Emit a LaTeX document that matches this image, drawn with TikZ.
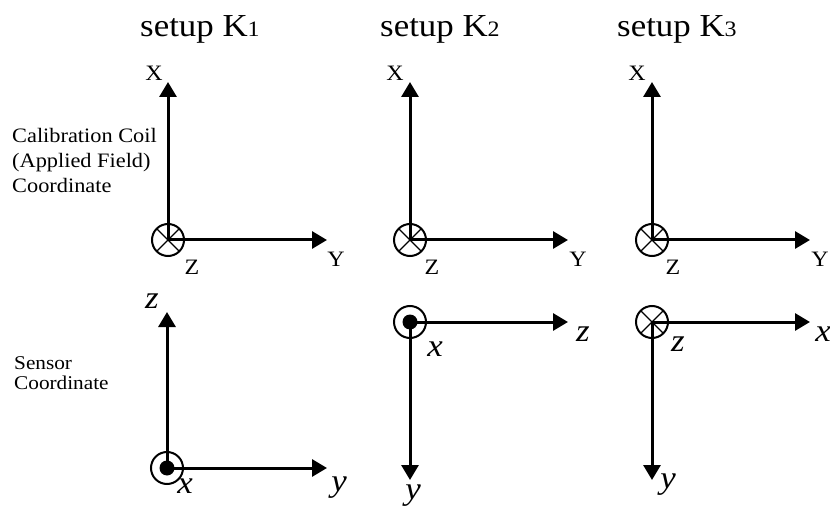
\documentclass[tikz,border=0pt]{standalone}
\usepackage{fontspec}
\setmainfont[FakeStretch=1.09]{Liberation Serif}
\usetikzlibrary{arrows.meta}
\begin{document}
\begin{tikzpicture}[x=1pt,y=-1pt,
  axis/.style={line width=3pt,-{Triangle[length=15pt,width=17pt]}},
  ring/.style={circle,draw,line width=2pt,minimum size=32pt,inner sep=0pt},
  intoring/.style={ring,path picture={
      \draw[line width=1.3pt] (path picture bounding box.south west)--(path picture bounding box.north east)
        (path picture bounding box.north west)--(path picture bounding box.south east);}},
  outring/.style={ring,path picture={
      \fill (path picture bounding box.center) circle[radius=7.5pt];}},
  title/.style={anchor=base west,inner sep=0pt,font=\fontsize{32}{36}\selectfont},
  upl/.style={inner sep=0pt,font=\fontsize{22}{24}\selectfont},
  itl/.style={inner sep=0pt,font=\fontsize{32}{34}\selectfont\itshape},
  side/.style={anchor=west,align=left,inner sep=0pt}]
\useasboundingbox (0,0) rectangle (830,513);
% titles
\node[title] (t1) at (140,37) {setup K{\fontsize{22}{22}\selectfont 1}};
\node[title] (t2) at (380,37) {setup K{\fontsize{22}{22}\selectfont 2}};
\node[title] (t3) at (617,37) {setup K{\fontsize{22}{22}\selectfont 3}};
% side texts
\node[side,font=\fontsize{20.5}{25}\selectfont] (cal) at (12,160) {Calibration Coil\\(Applied Field)\\Coordinate};
\node[side,font=\fontsize{19.5}{19.5}\selectfont] (sen) at (14,373) {Sensor\\Coordinate};
% ---- top row
\foreach \i/\cx/\tx in {1/168/327, 2/410/568, 3/652/810}{
  \coordinate (o\i) at (\cx,240);
  \coordinate (up\i) at (\cx,82);
  \coordinate (rt\i) at (\tx,240);
  \draw[axis] (o\i) -- (up\i);
  \draw[axis] (o\i) -- (rt\i);
  \node[intoring] (c\i) at (o\i) {};
}
\node[upl] (X1) at (154,73) {X};
\node[upl] (Y1) at (336,259) {Y};
\node[upl] (Z1) at (192,267) {Z};
\node[upl] (X2) at (395,73) {X};
\node[upl] (Y2) at (578,259) {Y};
\node[upl] (Z2) at (432,267) {Z};
\node[upl] (X3) at (637,73) {X};
\node[upl] (Y3) at (820,259) {Y};
\node[upl] (Z3) at (673,267) {Z};
% ---- bottom row, setup 1
\coordinate (p1) at (167,468);
\coordinate (pu1) at (167,312);
\coordinate (pr1) at (327,468);
\draw[axis] (p1) -- (pu1);
\draw[axis] (p1) -- (pr1);
\node[outring] (d1) at (p1) {};
\node[itl] (z1) at (152,301) {z};
\node[itl] (x1) at (185,486) {x};
\node[itl] (y1) at (339,488) {y};
% setup 2
\coordinate (p2) at (410,322);
\coordinate (pr2) at (568,322);
\coordinate (pd2) at (410,480);
\draw[axis] (p2) -- (pr2);
\draw[axis] (p2) -- (pd2);
\node[outring] (d2) at (p2) {};
\node[itl] (z2) at (583,334) {z};
\node[itl] (x2) at (435,349) {x};
\node[itl] (y2) at (413,496) {y};
% setup 3
\coordinate (p3) at (652,322);
\coordinate (pr3) at (810,322);
\coordinate (pd3) at (652,480);
\draw[axis] (p3) -- (pr3);
\draw[axis] (p3) -- (pd3);
\node[intoring] (d3) at (p3) {};
\node[itl] (x3) at (823,334) {x};
\node[itl] (z3) at (678,344) {z};
\node[itl] (y3) at (668,485) {y};
\end{tikzpicture}
\end{document}
